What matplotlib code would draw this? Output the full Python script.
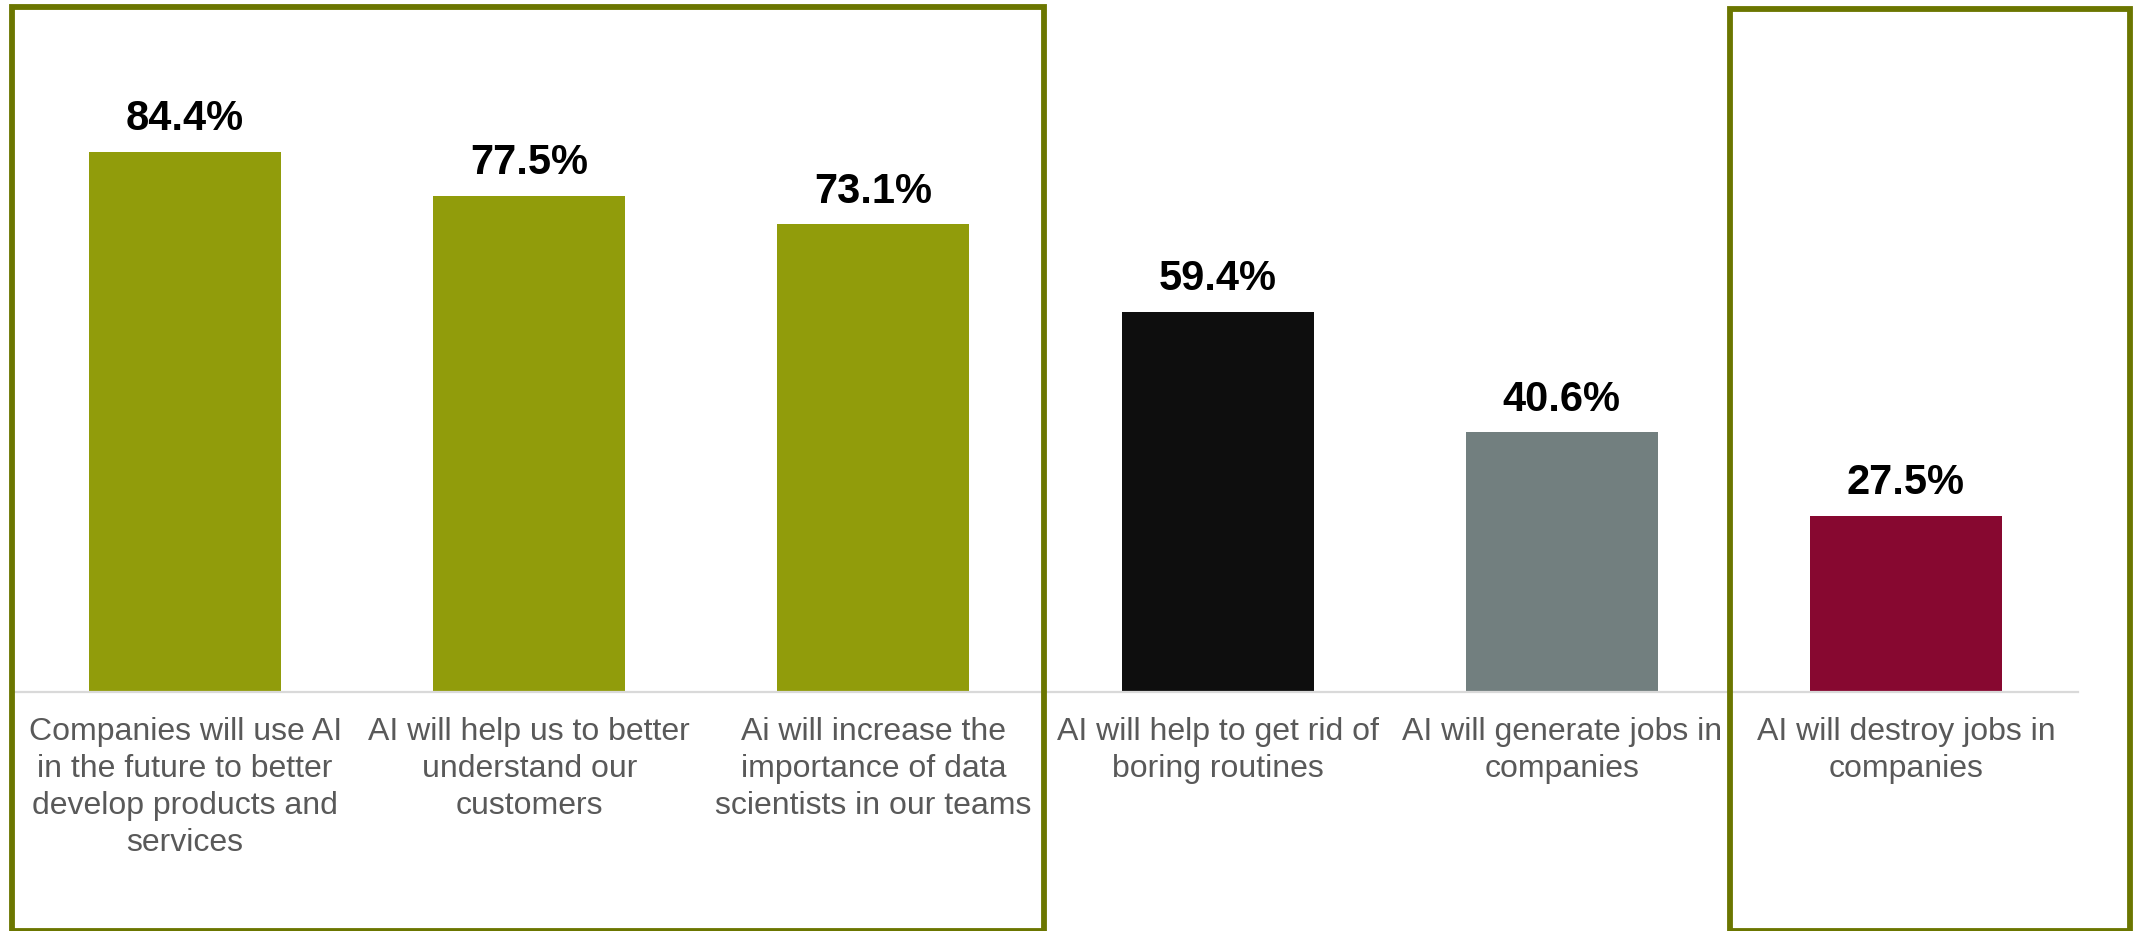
import matplotlib
matplotlib.use("Agg")
import matplotlib.pyplot as plt
from matplotlib.patches import Rectangle

categories = [
    "Companies will use AI\nin the future to better\ndevelop products and\nservices",
    "AI will help us to better\nunderstand our\ncustomers",
    "Ai will increase the\nimportance of data\nscientists in our teams",
    "AI will help to get rid of\nboring routines",
    "AI will generate jobs in\ncompanies",
    "AI will destroy jobs in\ncompanies",
]
values = [84.4, 77.5, 73.1, 59.4, 40.6, 27.5]
bar_colors = ["#919c0b", "#919c0b", "#919c0b", "#0e0e0e", "#727f7f", "#870830"]
box_color = "#6b7600"

plt.rcParams['font.family'] = ['Liberation Sans', 'DejaVu Sans']

W, H = 2139, 931
fig = plt.figure(figsize=(W / 100, H / 100), dpi=100)

# axes placed in pixel terms: x 13..2078, baseline at y=692, top (100%) at y=52
left, right = 13, 2078
base, top = 692, 52
ax = fig.add_axes([left / W, (H - base) / H, (right - left) / W, (base - top) / H])

x = list(range(len(values)))
ax.bar(x, values, width=0.558, color=bar_colors, zorder=2)
ax.set_xlim(-0.5, len(values) - 0.5)
ax.set_ylim(0, 100)

for xi, v in zip(x, values):
    ax.annotate(f"{v:.1f}%", (xi, v), xytext=(0, 9), textcoords="offset points",
                ha="center", va="bottom", fontsize=30, fontweight="bold", color="black")

ax.set_xticks(x)
ax.set_xticklabels(categories, fontsize=23, color="#595959", linespacing=1.3)
ax.tick_params(axis="x", length=0, pad=18)
ax.set_yticks([])
for s in ["top", "right", "left"]:
    ax.spines[s].set_visible(False)
ax.spines["bottom"].set_color("#d9d9d9")
ax.spines["bottom"].set_linewidth(1.6)

# highlight boxes (pixel coordinates, from top)
def add_box(x0, x1, y0, y1):
    fig.add_artist(Rectangle((x0 / W, (H - y1) / H), (x1 - x0) / W, (y1 - y0) / H,
                             transform=fig.transFigure, fill=False,
                             edgecolor=box_color, linewidth=4.2, zorder=5))

add_box(12, 1044, 7, 931)
add_box(1730, 2130, 9, 931)

fig.savefig("out.png", dpi=100)
